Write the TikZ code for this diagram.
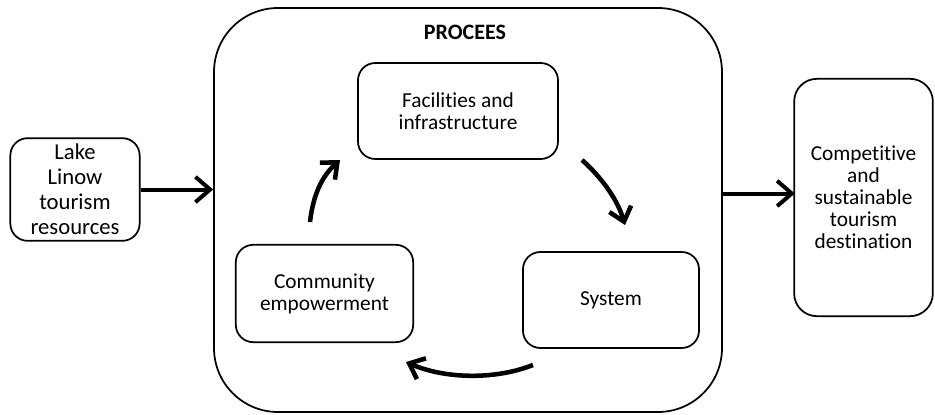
\documentclass[tikz,border=0pt]{standalone}
\usepackage{fontspec}
\setmainfont{Carlito}[Ligatures=NoCommon]
\usetikzlibrary{arrows.meta}

\begin{document}
\begin{tikzpicture}[x=0.75pt,y=-0.75pt,
  box/.style={draw, line width=1.3pt, rounded corners=13pt, align=center,
    inner sep=0pt, font=\fontsize{16}{16.5}\selectfont},
  flow/.style={line width=3pt, -{Straight Barb[length=11pt,width=19pt]}},
  turn/.style={line width=3.4pt, -{Straight Barb[length=10pt,width=17pt]}}]
  \useasboundingbox (0,0) rectangle (935,414);
  % boxes
  \node[box, rounded corners=48pt, minimum width=381pt, minimum height=303pt] (proc) at (468,210) {};
  \node[font=\bfseries\fontsize{16.5}{18}\selectfont] (title) at (465,32) {PROCEES};
  \node[box, minimum width=97pt, minimum height=77pt, font=\fontsize{17}{18.75}\selectfont] (lake) at (75,189.5)
    {Lake\\Linow\\tourism\\resources};
  \node[box, minimum width=150pt, minimum height=72pt] (fac) at (458,111) {Facilities and\\infrastructure};
  \node[box, minimum width=132pt, minimum height=72pt] (sys) at (611,300) {System};
  \node[box, minimum width=133pt, minimum height=73pt] (comm) at (324.5,293.5) {Community\\empowerment};
  \node[box, rounded corners=17pt, minimum width=104pt, minimum height=178pt] (dest) at (863.5,197.5)
    {Competitive\\and\\sustainable\\tourism\\destination};
  % in / out
  \draw[flow] (lake.east) -- (lake.east -| proc.west);
  \draw[flow] (dest.west -| proc.east) ++(0,-4) -- ++(72,0);
  % cycle
  \coordinate (c1) at (310,222);
  \coordinate (c2) at (340,160);
  \coordinate (c3) at (582,160);
  \coordinate (c4) at (625,225);
  \coordinate (c5) at (533,365);
  \coordinate (c6) at (406,362);
  \draw[turn] (c1) .. controls (313,195) and (322,176) .. (c2);
  \draw[turn] (c3) .. controls (600,176) and (617,198) .. (c4);
  \draw[turn] (c5) .. controls (495,380) and (445,379) .. (c6);
\end{tikzpicture}
\end{document}
